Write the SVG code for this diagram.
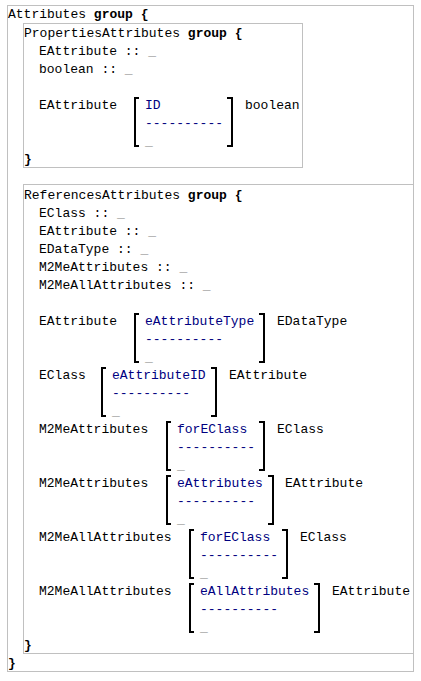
<svg xmlns="http://www.w3.org/2000/svg" width="421" height="681" viewBox="0 0 421 681">
<style>
text{font-family:"Liberation Mono","Courier New",monospace;font-size:13px;fill:#000}
.k{font-weight:bold}
.c{fill:#000080}
.u{fill:#808080}
.box{fill:none;stroke:#c0c0c0;stroke-width:1}
.br{fill:none;stroke:#000;stroke-width:2}
</style>
<rect width="421" height="681" fill="#fff"/>
<g id="attributes">
<rect class="box" x="7.5" y="5.5" width="406" height="666"/>
<text x="8" y="18">Attributes <tspan class="k">group {</tspan></text>
<text x="8" y="667" class="k">}</text>
</g>
<g id="properties">
<rect class="box" x="23.5" y="23.5" width="279" height="144"/>
<text x="24" y="37">PropertiesAttributes <tspan class="k">group {</tspan></text>
<text x="39" y="55">EAttribute :: <tspan class="u">_</tspan></text>
<text x="39" y="73">boolean :: <tspan class="u">_</tspan></text>
<text x="24" y="163" class="k">}</text>
</g>
<g id="prop-ID">
<text x="39" y="109">EAttribute</text>
<path class="br" d="M139,98H135V146H139M227,98H232V146H227"/>
<text x="145" y="109" class="c">ID</text>
<text x="145" y="127" class="c">----------</text>
<text x="145" y="145" class="u">_</text>
<text x="245" y="109">boolean</text>
</g>
<g id="references">
<rect class="box" x="23.5" y="184.5" width="390" height="469"/>
<text x="24" y="199">ReferencesAttributes <tspan class="k">group {</tspan></text>
<text x="39" y="217">EClass :: <tspan class="u">_</tspan></text>
<text x="39" y="235">EAttribute :: <tspan class="u">_</tspan></text>
<text x="39" y="253">EDataType :: <tspan class="u">_</tspan></text>
<text x="39" y="271">M2MeAttributes :: <tspan class="u">_</tspan></text>
<text x="39" y="289">M2MeAllAttributes :: <tspan class="u">_</tspan></text>
<text x="24" y="649" class="k">}</text>
</g>
<g id="ref-eAttributeType">
<text x="39" y="325">EAttribute</text>
<path class="br" d="M139,314H135V362H139M259,314H264V362H259"/>
<text x="145" y="325" class="c">eAttributeType</text>
<text x="145" y="343" class="c">----------</text>
<text x="145" y="361" class="u">_</text>
<text x="277" y="325">EDataType</text>
</g>
<g id="ref-eAttributeID">
<text x="39" y="379">EClass</text>
<path class="br" d="M106,368H102V416H106M211,368H216V416H211"/>
<text x="112" y="379" class="c">eAttributeID</text>
<text x="112" y="397" class="c">----------</text>
<text x="112" y="415" class="u">_</text>
<text x="229" y="379">EAttribute</text>
</g>
<g id="ref-forEClass-1">
<text x="39" y="433">M2MeAttributes</text>
<path class="br" d="M171,422H167V470H171M259,422H264V470H259"/>
<text x="177" y="433" class="c">forEClass</text>
<text x="177" y="451" class="c">----------</text>
<text x="177" y="469" class="u">_</text>
<text x="277" y="433">EClass</text>
</g>
<g id="ref-eAttributes">
<text x="39" y="487">M2MeAttributes</text>
<path class="br" d="M171,476H167V524H171M268,476H273V524H268"/>
<text x="177" y="487" class="c">eAttributes</text>
<text x="177" y="505" class="c">----------</text>
<text x="177" y="523" class="u">_</text>
<text x="285" y="487">EAttribute</text>
</g>
<g id="ref-forEClass-2">
<text x="39" y="541">M2MeAllAttributes</text>
<path class="br" d="M194,530H190V578H194M282,530H287V578H282"/>
<text x="200" y="541" class="c">forEClass</text>
<text x="200" y="559" class="c">----------</text>
<text x="200" y="577" class="u">_</text>
<text x="300" y="541">EClass</text>
</g>
<g id="ref-eAllAttributes">
<text x="39" y="595">M2MeAllAttributes</text>
<path class="br" d="M194,584H190V632H194M314,584H319V632H314"/>
<text x="200" y="595" class="c">eAllAttributes</text>
<text x="200" y="613" class="c">----------</text>
<text x="200" y="631" class="u">_</text>
<text x="332" y="595">EAttribute</text>
</g>
<g id="connectors"/>
</svg>
